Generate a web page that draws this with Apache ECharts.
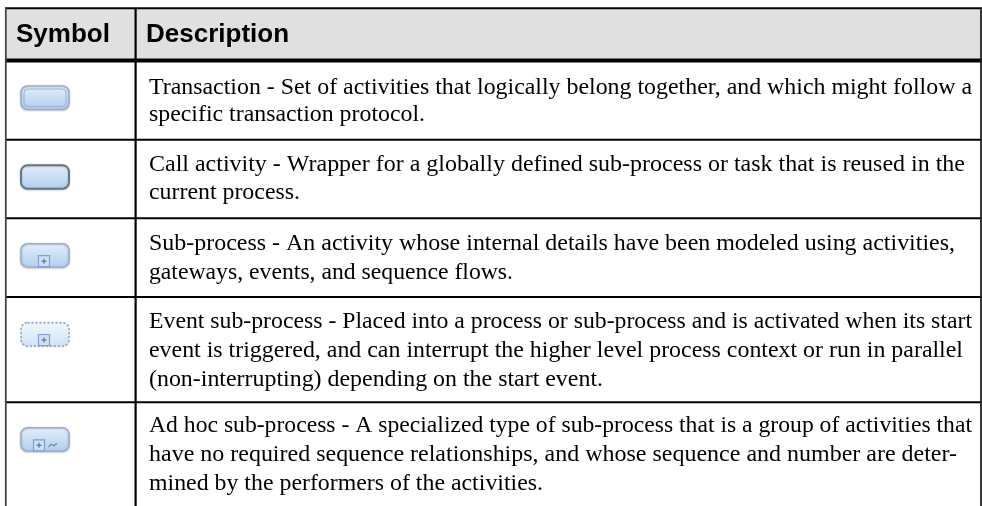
<!DOCTYPE html>
<html>
<head>
<meta charset="utf-8">
<style>
  html, body { margin: 0; padding: 0; background: #fff; }
  #main { width: 982px; height: 506px; filter: blur(0.45px); }
</style>
<script src="https://cdn.jsdelivr.net/npm/echarts@6/dist/echarts.min.js"></script>
</head>
<body>
<div id="main"></div>
<script>
// table content
const headers = ['Symbol', 'Description']
const symbolKinds = ['transaction', 'call', 'subprocess', 'event', 'adhoc']
const descriptions = [
  ['Transaction - Set of activities that logically belong together, and which might follow a',
   'specific transaction protocol.'],
  ['Call activity - Wrapper for a globally defined sub-process or task that is reused in the',
   'current process.'],
  ['Sub-process - An activity whose internal details have been modeled using activities,',
   'gateways, events, and sequence flows.'],
  ['Event sub-process - Placed into a process or sub-process and is activated when its start',
   'event is triggered, and can interrupt the higher level process context or run in parallel',
   '(non-interrupting) depending on the start event.'],
  ['Ad hoc sub-process - A specialized type of sub-process that is a group of activities that',
   'have no required sequence relationships, and whose sequence and number are deter-',
   'mined by the performers of the activities.']
]

// layout of the table
const rowLines = [139.7, 218.2, 297, 402.3, 520]
const firstBaselines = [94.3, 172, 251, 329, 433]
const lineGaps = [27.8, 27.8, 28.3, 28.8, 29]
// where each printed line ends, the source was set a little tighter than the font
const lineEnds = [[972, 425], [965, 300], [955, 513], [972, 963, 603], [972, 957, 543]]
const headerBottom = 60.5
const colX = 135.6
const textX = 149
const bodyFont = '24px "Liberation Serif"'
const headFont = 'bold 26px "Liberation Sans"'
// zrender has no alphabetic baseline, so texts are placed by their middle
const bodyMiddle = 7
const headMiddle = 8.5

let chart = echarts.init(document.getElementById('main'))
const measure = document.createElement('canvas').getContext('2d')
measure.font = bodyFont

const grad = (stops) => new echarts.graphic.LinearGradient(0, 0, 0, 1, stops)

function symbolParts(kind, y) {
  const x = 21, w = 48, h = 23.5
  const parts = []
  const dashed = kind === 'event'
  const fill = dashed
    ? grad([{ offset: 0, color: '#f3f8fd' }, { offset: 1, color: '#cfe2f6' }])
    : grad([
        { offset: 0, color: '#e6f0fb' },
        { offset: 0.5, color: '#c9def5' },
        { offset: 1, color: '#afcdef' }
      ])
  const stroke = kind === 'call' ? '#66768a' : (dashed ? '#9aabca' : '#9cb1cf')
  parts.push({
    type: 'rect',
    shape: { x: x, y: y, width: w, height: h, r: 6.5 },
    style: {
      fill: fill,
      stroke: stroke,
      lineWidth: kind === 'call' ? 2 : 1.6,
      lineDash: dashed ? [2, 2] : null,
      shadowBlur: dashed ? 0 : 2,
      shadowColor: 'rgba(110,110,110,0.4)',
      shadowOffsetY: 0.5
    }
  })
  if (kind === 'transaction') {
    parts.push({
      type: 'rect',
      shape: { x: x + 3, y: y + 3, width: w - 6, height: h - 6, r: 4 },
      style: { fill: 'none', stroke: '#9ab3d4', lineWidth: 1 }
    })
  }
  if (kind === 'subprocess' || kind === 'event' || kind === 'adhoc') {
    const bx = kind === 'adhoc' ? x + 12.5 : x + 17.5
    const by = y + h - 11.5
    parts.push({
      type: 'rect',
      shape: { x: bx, y: by, width: 11, height: 11 },
      style: { fill: '#cfe0f5', stroke: '#7f9fd6', lineWidth: 1.2 }
    })
    parts.push({
      type: 'line',
      shape: { x1: bx + 3, y1: by + 5.5, x2: bx + 8, y2: by + 5.5 },
      style: { stroke: '#5f7396', lineWidth: 1.2 }
    })
    parts.push({
      type: 'line',
      shape: { x1: bx + 5.5, y1: by + 3, x2: bx + 5.5, y2: by + 8 },
      style: { stroke: '#5f7396', lineWidth: 1.2 }
    })
  }
  if (kind === 'adhoc') {
    parts.push({
      type: 'polyline',
      shape: { points: [[x + 27.5, y + 19], [x + 30, y + 16.5], [x + 33, y + 18], [x + 36, y + 15.5]] },
      style: { fill: 'none', stroke: '#72869f', lineWidth: 1.2 }
    })
  }
  return parts
}

function renderRow(params, api) {
  const i = api.value(0)
  const top = i === 0 ? headerBottom : rowLines[i - 1]
  const bottom = rowLines[i]
  const children = []
  // row rule
  children.push({
    type: 'line',
    shape: { x1: 5, y1: bottom, x2: 982, y2: bottom },
    style: { stroke: '#000', lineWidth: 2 }
  })
  symbolParts(symbolKinds[i], top + 25.5).forEach(p => children.push(p))
  descriptions[i].forEach((line, k) => {
    children.push({
      type: 'text',
      x: textX,
      y: firstBaselines[i] + k * lineGaps[i] - bodyMiddle,
      scaleX: (lineEnds[i][k] - textX) / measure.measureText(line).width,
      style: {
        text: line,
        x: 0,
        y: 0,
        font: bodyFont,
        fill: '#000',
        verticalAlign: 'middle'
      }
    })
  })
  return { type: 'group', children: children }
}

function renderFrame() {
  return {
    type: 'group',
    children: [
      { type: 'rect', shape: { x: 6, y: 8, width: 975, height: 51 }, style: { fill: '#e0e0e0' } },
      { type: 'line', shape: { x1: 5, y1: 8.2, x2: 982, y2: 8.2 }, style: { stroke: '#000', lineWidth: 2 } },
      { type: 'line', shape: { x1: 5, y1: 60.5, x2: 982, y2: 60.5 }, style: { stroke: '#000', lineWidth: 4 } },
      { type: 'line', shape: { x1: 5.8, y1: 8, x2: 5.8, y2: 506 }, style: { stroke: '#444', lineWidth: 1.8 } },
      { type: 'line', shape: { x1: 981, y1: 8, x2: 981, y2: 506 }, style: { stroke: '#222', lineWidth: 1.8 } },
      { type: 'line', shape: { x1: colX, y1: 8, x2: colX, y2: 506 }, style: { stroke: '#000', lineWidth: 2.2 } },
      { type: 'text', style: { text: headers[0], x: 16, y: 43 - headMiddle, font: headFont, fill: '#000', verticalAlign: 'middle' } },
      { type: 'text', style: { text: headers[1], x: 146, y: 43 - headMiddle, font: headFont, fill: '#000', verticalAlign: 'middle' } }
    ]
  }
}

chart.setOption({
  animation: false,
  backgroundColor: '#fff',
  grid: { left: 0, right: 0, top: 0, bottom: 0 },
  xAxis: { type: 'value', show: false, min: 0, max: 982 },
  yAxis: { type: 'value', show: false, min: 0, max: 506, inverse: true },
  series: [
    { type: 'custom', silent: true, renderItem: renderRow, data: symbolKinds.map((k, i) => [i]), encode: { x: -1, y: -1 } },
    { type: 'custom', silent: true, renderItem: renderFrame, data: [[0]], encode: { x: -1, y: -1 } }
  ]
})
</script>
</body>
</html>
